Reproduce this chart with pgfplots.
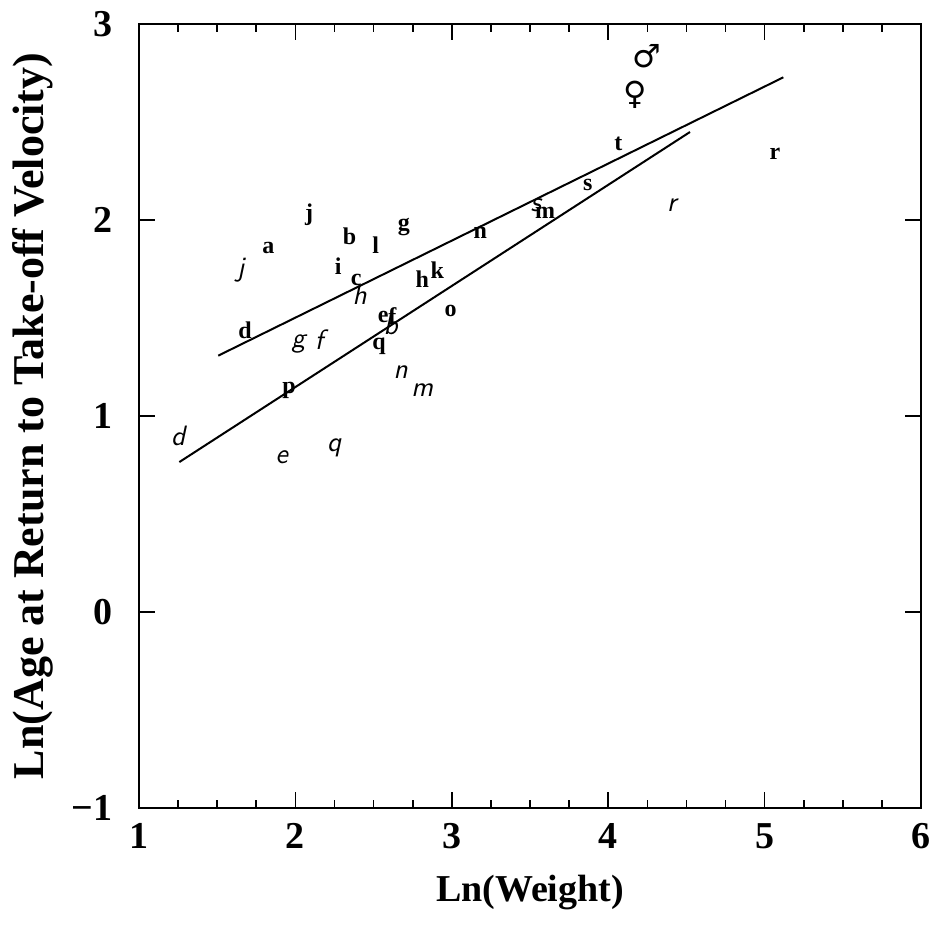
\documentclass[border=0pt]{standalone}
\usepackage{fontspec}
\setmainfont{Liberation Serif}
\newfontfamily\symfont{DejaVu Sans}
\usepackage{pgfplots}
\usepackage{pgfplotstable}
\pgfplotsset{compat=1.18}

\pgfplotstableread{
x y l
1.827 1.856 a
2.347 1.915 b
2.389 1.694 c
1.678 1.439 d
2.562 1.507 e
2.620 1.510 f
2.694 1.966 g
2.811 1.697 h
2.274 1.762 i
2.087 2.026 j
2.907 1.745 k
2.513 1.872 l
3.596 2.037 m
3.183 1.936 n
2.993 1.537 o
1.959 1.133 p
2.535 1.357 q
5.066 2.340 r
3.869 2.179 s
4.065 2.391 t
}\boldtab

\pgfplotstableread{
x y l
2.609 1.464 b
1.251 0.898 d
1.912 0.792 e
2.151 1.391 f
2.019 1.367 g
2.411 1.617 h
1.650 1.745 j
2.811 1.133 m
2.673 1.226 n
2.247 0.835 q
4.406 2.077 r
3.538 2.077 s
}\italtab

\pgfplotstableread{
x y l
4.246 2.837 ♂
4.171 2.638 ♀
}\symtab

\begin{document}
\begin{tikzpicture}
\useasboundingbox (0,0) rectangle (468.5pt,471.5pt);
\begin{axis}[
  at={(69.5pt,67.5pt)}, anchor=south west,
  scale only axis, width=391pt, height=392pt,
  xmin=1, xmax=6, ymin=-1, ymax=3,
  xtick={1,2,3,4,5,6}, xticklabels={1,2,3,4,5,6},
  ytick={-1,0,1,2,3}, yticklabels={−1,0,1,2,3},
  minor xtick={1.25,1.5,1.75,2.25,2.5,2.75,3.25,3.5,3.75,4.25,4.5,4.75,5.25,5.5,5.75},
  tick align=inside,
  major tick length=8pt, minor tick length=4pt,
  axis line style={line width=1pt},
  every tick/.style={black, line width=0.8pt},
  tick label style={font=\fontsize{19}{19}\selectfont\bfseries},
  xticklabel style={anchor=center, yshift=-14pt},
  yticklabel style={anchor=east, inner sep=0pt, xshift=-13pt},
  xlabel={Ln(Weight)}, ylabel={Ln(Age at Return to Take-off Velocity)},
  xlabel style={font=\fontsize{19}{19}\selectfont\bfseries, at={(axis description cs:0.5,-0.1084)}, anchor=center},
  ylabel style={font=\fontsize{22}{22}\selectfont\bfseries, at={(axis description cs:-0.1355,0.5)}, anchor=center},
]
\addplot[black, line width=1pt, no marks] coordinates {(1.507,1.308) (5.120,2.728)};
\addplot[black, line width=1pt, no marks] coordinates {(1.258,0.765) (4.523,2.449)};

\addplot[only marks, mark=none, nodes near coords, point meta=explicit symbolic,
  nodes near coords style={anchor=center, inner sep=0pt, font=\fontsize{12}{12}\selectfont\bfseries}]
  table[x=x, y=y, meta=l] {\boldtab};

\addplot[only marks, mark=none, nodes near coords, point meta=explicit symbolic,
  nodes near coords style={anchor=center, inner sep=0pt, font=\fontsize{14}{14}\selectfont\sffamily\slshape}]
  table[x=x, y=y, meta=l] {\italtab};

\addplot[only marks, mark=none, nodes near coords, point meta=explicit symbolic,
  nodes near coords style={anchor=center, inner sep=0pt, font=\fontsize{16}{16}\selectfont\symfont}]
  table[x=x, y=y, meta=l] {\symtab};
\end{axis}
\end{tikzpicture}
\end{document}
